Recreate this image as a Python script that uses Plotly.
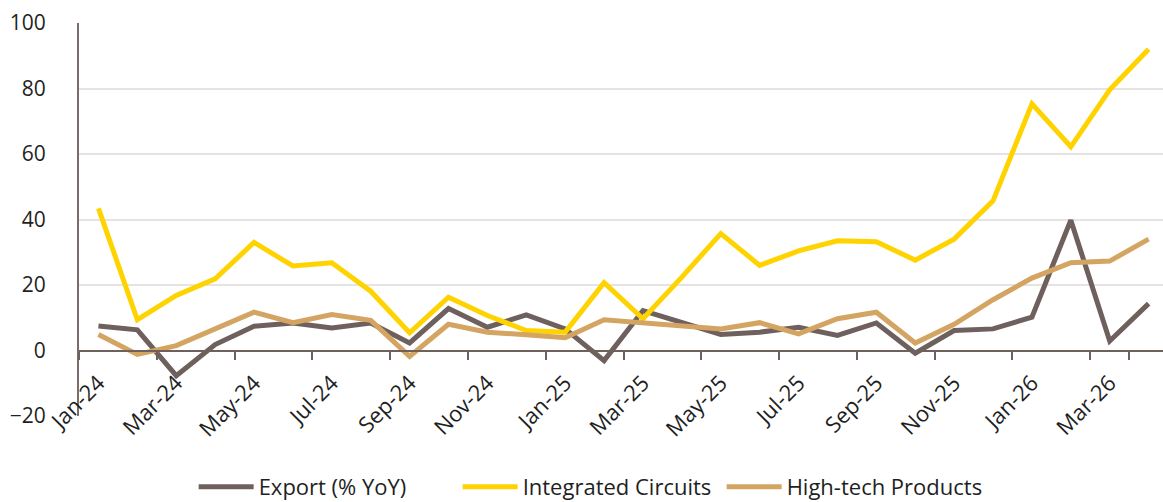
import plotly.graph_objects as go

months = ["Jan-24", "Feb-24", "Mar-24", "Apr-24", "May-24", "Jun-24", "Jul-24", "Aug-24",
          "Sep-24", "Oct-24", "Nov-24", "Dec-24", "Jan-25", "Feb-25", "Mar-25", "Apr-25",
          "May-25", "Jun-25", "Jul-25", "Aug-25", "Sep-25", "Oct-25", "Nov-25", "Dec-25",
          "Jan-26", "Feb-26", "Mar-26", "Apr-26"]

export_yoy = [7.5, 6.3, -7.7, 1.8, 7.4, 8.4, 6.9, 8.4, 2.3, 12.8, 7.1, 10.9, 6.6, -3.1,
              12.2, 8.7, 4.9, 5.6, 7.1, 4.6, 8.4, -0.8, 6.1, 6.6, 10.2, 39.8, 2.9, 14.3]
integrated_circuits = [43.4, 9.4, 16.8, 21.9, 33.0, 25.8, 26.8, 18.1, 5.4, 16.3, 10.7, 6.1,
                       5.6, 20.7, 9.7, 22.4, 35.7, 26.0, 30.4, 33.5, 33.2, 27.6, 34.0, 45.7,
                       75.3, 62.2, 79.6, 92.0]
high_tech = [4.9, -1.2, 1.5, 6.6, 11.7, 8.5, 11.0, 9.2, -1.8, 8.0, 5.6, 4.8, 3.9, 9.4,
             8.4, 7.7, 6.6, 8.5, 5.1, 9.7, 11.7, 2.3, 8.0, 15.5, 22.1, 26.8, 27.3, 34.0]

y_ticks = [-20, 0, 20, 40, 60, 80, 100]
x_tick_labels = months[::2]

series = [
    ("Export (% YoY)", export_yoy, "#6e605c"),
    ("Integrated Circuits", integrated_circuits, "#ffd300"),
    ("High-tech Products", high_tech, "#d4a462"),
]

fig = go.Figure()
for name, vals, color in series:
    fig.add_trace(go.Scatter(
        x=months, y=vals, name=name, mode="lines",
        line=dict(color=color, width=5),
    ))

font_family = "'Open Sans', 'Noto Sans', sans-serif"

fig.update_layout(
    width=1163, height=502,
    margin=dict(l=79, r=0, t=23, b=86, autoexpand=False),
    paper_bgcolor="white", plot_bgcolor="white",
    font=dict(family=font_family, size=21, color="#1f1f1f"),
    showlegend=True,
    legend=dict(orientation="h", xref="container", yref="container",
                x=0.507, xanchor="center", y=0.03, yanchor="middle",
                font=dict(size=22, color="#1f1f1f"), itemwidth=55,
                entrywidth=194, entrywidthmode="pixels",
                bgcolor="rgba(0,0,0,0)"),
    xaxis=dict(
        type="category",
        categoryorder="array", categoryarray=months,
        range=[-0.5, 27.37],
        tickmode="array", tickvals=x_tick_labels, ticktext=x_tick_labels,
        tickson="boundaries",
        ticks="outside", ticklen=8, tickwidth=2, tickcolor="#6e605c",
        tickangle=-45, ticklabelstandoff=10,
        tickfont=dict(size=22, color="#1f1f1f"),
        showline=True, linecolor="#6e605c", linewidth=2,
        showgrid=False, zeroline=False, automargin=False,
        anchor="free", position=1/6,
    ),
    yaxis=dict(
        range=[-20, 100],
        tickmode="array", tickvals=y_ticks,
        ticks="", ticklabelstandoff=27,
        tickfont=dict(size=21, color="#1f1f1f"),
        showline=True, linecolor="#7a6c6a", linewidth=2,
        showgrid=True, gridcolor="#e6e3e3", gridwidth=2,
        zeroline=False, automargin=False,
    ),
)

fig.write_html("out.html", config={"displayModeBar": False},
               post_script="document.body.style.margin='0';")
